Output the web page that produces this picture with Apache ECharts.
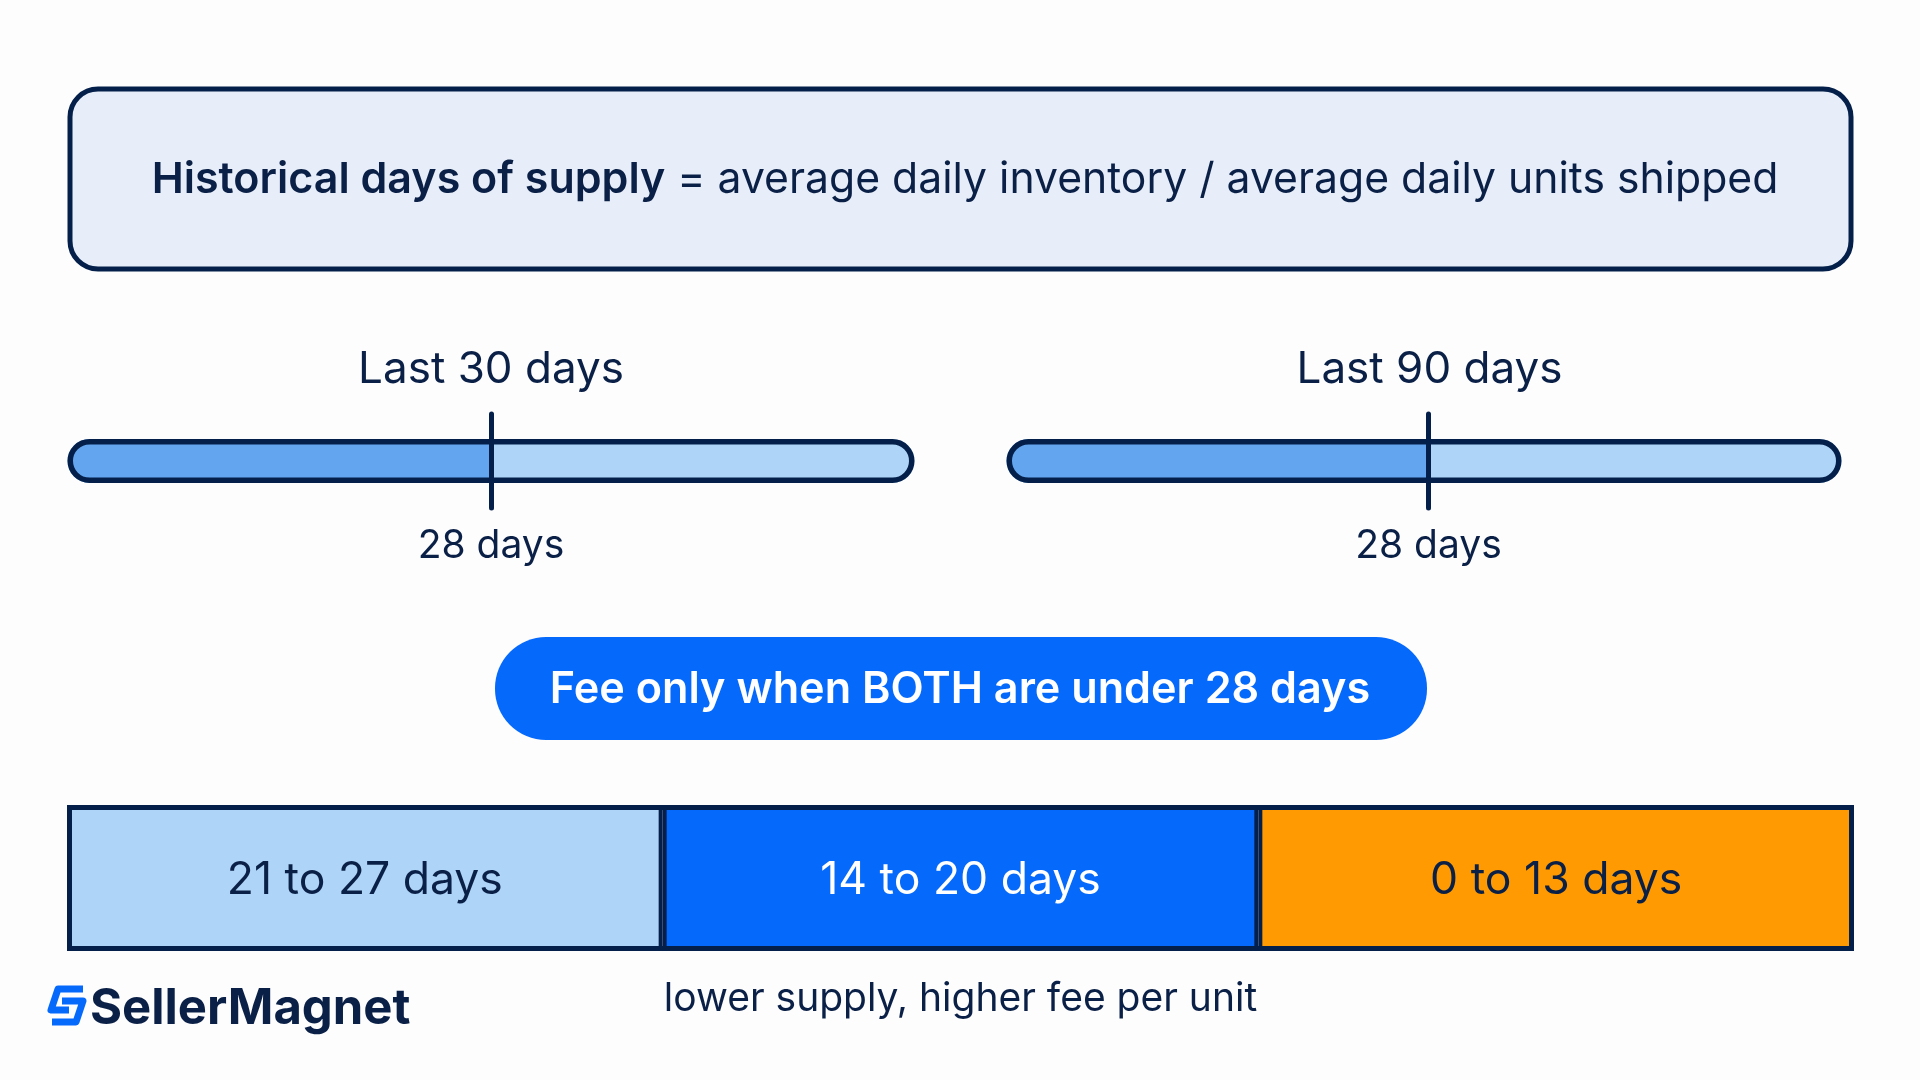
<!DOCTYPE html>
<html>
<head>
<meta charset="utf-8">
<style>
  html, body { margin: 0; padding: 0; background: #fdfdfe; }
  #chart { width: 1920px; height: 1080px; }
</style>
<script src="https://cdn.jsdelivr.net/npm/echarts@6/dist/echarts.min.js"></script>
</head>
<body>
<div id="chart"></div>
<script>
// window panels
const windowNames = ['Last 30 days', 'Last 90 days'];
const thresholdDays = 28;
const thresholdLabel = '28 days';
const belowThreshold = [28, 28];
const aboveThreshold = [28, 27.4];

// fee tiers
const tierNames = ['21 to 27 days', '14 to 20 days', '0 to 13 days'];
const tierValues = [1, 1, 1];
const tierColors = ['#aed4f8', '#0569fb', '#ff9a02'];
const tierTextColors = ['#0b2046', '#ffffff', '#0b2046'];
const tierCaption = 'lower supply, higher fee per unit';

const NAVY = '#04204a';
const TEXT = '#0b2046';
const FONT = 'Inter';

const chart = echarts.init(document.getElementById('chart'));

/* one grid per bar */
const panelGrids = [
  { left: 67.5, top: 414, width: 847, height: 94 },
  { left: 1006.5, top: 414, width: 835, height: 94 }
];
const titleCenters = [486, 1424.5];
const BAR_H = 44;

const grids = panelGrids.concat([{ left: 67, top: 805, width: 1787, height: 146 }]);

const xAxes = [];
const yAxes = [];
const series = [];
windowNames.forEach((name, i) => {
  const total = belowThreshold[i] + aboveThreshold[i];
  xAxes.push({ type: 'value', gridIndex: i, min: 0, max: total, show: false });
  yAxes.push({ type: 'category', gridIndex: i, data: [name], show: false });
  series.push({
    type: 'bar', xAxisIndex: i, yAxisIndex: i, stack: 'w' + i, barWidth: BAR_H, barGap: '-100%', clip: false,
    data: [belowThreshold[i]],
    itemStyle: { color: '#63a5ee', borderRadius: [22, 0, 0, 22] }
  });
  series.push({
    type: 'bar', xAxisIndex: i, yAxisIndex: i, stack: 'w' + i, barWidth: BAR_H, barGap: '-100%', clip: false,
    data: [aboveThreshold[i]],
    itemStyle: { color: '#aed4f8', borderRadius: [0, 22, 22, 0] }
  });
  // outline over both parts, threshold line on top
  series.push({
    type: 'bar', xAxisIndex: i, yAxisIndex: i, barWidth: BAR_H, barGap: '-100%', clip: false, z: 3,
    data: [total],
    itemStyle: { color: 'transparent', borderColor: NAVY, borderWidth: 5.5, borderRadius: 22 },
    markLine: {
      silent: true, symbol: 'none', animation: false, z: 5,
      lineStyle: { color: NAVY, width: 5, type: 'solid', cap: 'round' },
      label: {
        show: true, position: 'start', distance: 19, formatter: thresholdLabel,
        color: TEXT, fontFamily: FONT, fontSize: 39, fontWeight: 400
      },
      data: [{ xAxis: thresholdDays }]
    }
  });
});

xAxes.push({
  type: 'category', gridIndex: 2, data: tierNames,
  axisLine: { show: false }, axisTick: { show: false }, axisLabel: { show: false },
  name: tierCaption, nameLocation: 'middle', nameGap: 29,
  nameTextStyle: { color: TEXT, fontFamily: FONT, fontSize: 39, fontWeight: 400 }
});
yAxes.push({ type: 'value', gridIndex: 2, min: 0, max: 1, show: false });
series.push({
  type: 'bar', xAxisIndex: 2, yAxisIndex: 2, barCategoryGap: 0, clip: false,
  data: tierValues.map((v, i) => ({
    value: v,
    itemStyle: { color: tierColors[i] },
    label: { color: tierTextColors[i] }
  })),
  itemStyle: { borderColor: NAVY, borderWidth: 4 },
  label: {
    show: true, position: 'inside', offset: [0, 3], fontFamily: FONT, fontSize: 44.5, fontWeight: 400,
    formatter: p => tierNames[p.dataIndex]
  }
});
// outer frame of the tier band
xAxes.push({ type: 'category', gridIndex: 2, data: ['all'], show: false });
yAxes.push({ type: 'value', gridIndex: 2, min: 0, max: 1, show: false });
series.push({
  type: 'bar', xAxisIndex: 3, yAxisIndex: 3, barCategoryGap: 0, clip: false, z: 4,
  data: [1],
  itemStyle: { color: 'transparent', borderColor: NAVY, borderWidth: 5 }
});

chart.setOption({
  animation: false,
  backgroundColor: '#fdfdfe',
  title: windowNames.map((name, i) => ({
    text: name, left: titleCenters[i], top: 343, textAlign: 'center',
    textStyle: { color: TEXT, fontFamily: FONT, fontSize: 44, fontWeight: 400 }
  })),
  grid: grids,
  xAxis: xAxes,
  yAxis: yAxes,
  series: series,
  graphic: [
    // formula box
    {
      type: 'rect', z: 0, shape: { x: 70, y: 89, width: 1781, height: 180, r: 28 },
      style: { fill: '#e8eef9', stroke: NAVY, lineWidth: 5 }
    },
    {
      type: 'text', z: 1, x: 965, y: 180.5,
      style: {
        text: '{b|Historical days of supply} = average daily inventory / average daily units shipped',
        align: 'center', verticalAlign: 'middle', fill: TEXT, font: '400 42.7px Inter',
        rich: { b: { font: '600 43px Inter', fill: TEXT } }
      }
    },
    // condition pill
    {
      type: 'rect', z: 1, shape: { x: 495, y: 637, width: 932, height: 103, r: 51 },
      style: { fill: '#0569fb' }
    },
    {
      type: 'text', z: 2, x: 960, y: 690.5,
      style: {
        text: 'Fee only when BOTH are under 28 days', align: 'center', verticalAlign: 'middle',
        fill: '#ffffff', font: '600 43.2px Inter'
      }
    },
    // logo
    {
      type: 'polyline', z: 2,
      shape: { points: [[83, 989], [58, 989], [51, 1010], [69, 1010]] },
      style: { fill: null, stroke: '#0569fb', lineWidth: 7, lineJoin: 'round' }
    },
    {
      type: 'polyline', z: 2,
      shape: { points: [[62, 1001], [83, 1001], [76, 1022], [52, 1022]] },
      style: { fill: null, stroke: '#0569fb', lineWidth: 7, lineJoin: 'round' }
    },
    {
      type: 'text', z: 2, x: 90, y: 1009,
      style: {
        text: 'SellerMagnet', align: 'left', verticalAlign: 'middle',
        fill: TEXT, font: '700 49px Inter'
      }
    }
  ]
});
</script>
</body>
</html>
